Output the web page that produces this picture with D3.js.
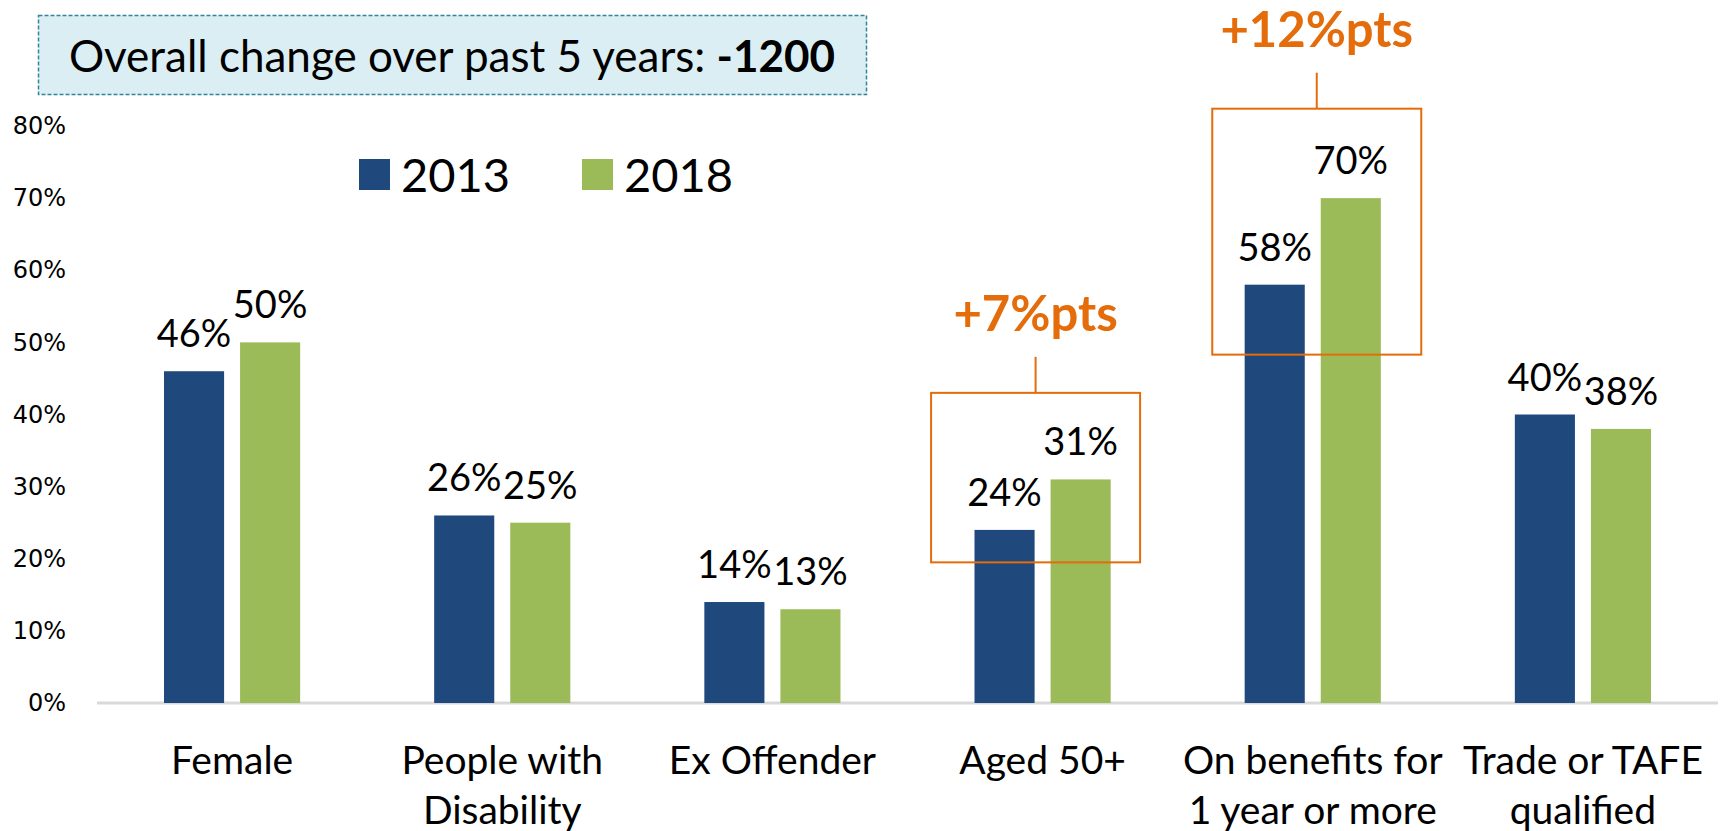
<!DOCTYPE html>
<html>
<head>
<meta charset="utf-8">
<script src="https://cdn.jsdelivr.net/npm/d3@7"></script>
<style>
  body { margin: 0; background: #fff; }
  svg { display: block; font-family: Lato, "Open Sans", sans-serif; }
</style>
</head>
<body>
<div id="chart"></div>
<script>
// data
var categories = ["Female", "People with|Disability", "Ex Offender", "Aged 50+", "On benefits for|1 year or more", "Trade or TAFE|qualified"];
var series = ["2013", "2018"];
var values2013 = [0.46, 0.26, 0.14, 0.24, 0.58, 0.40];
var values2018 = [0.50, 0.25, 0.13, 0.31, 0.70, 0.38];
var yTicks = [0, 0.1, 0.2, 0.3, 0.4, 0.5, 0.6, 0.7, 0.8];
var titleText = "Overall change over past 5 years: ";
var titleValue = "-1200";
// callouts: which category, label, box value range
var calloutCats = ["Aged 50+", "On benefits for|1 year or more"];
var calloutLabels = ["+7%pts", "+12%pts"];
var calloutLow = [0.195, 0.483];
var calloutHigh = [0.43, 0.824];

var width = 1721, height = 831;
var colors = {"2013": "#1F497D", "2018": "#9BBB59"};
var orange = "#E46C0A";

var svg = d3.select("#chart").append("svg")
  .attr("width", width)
  .attr("height", height);

var x0 = d3.scaleBand()
  .domain(categories)
  .range([97, 1718])
  .paddingInner(0.496)
  .paddingOuter(0.248);

var x1 = d3.scaleBand()
  .domain(series)
  .range([0, x0.bandwidth()])
  .paddingInner(0.21);

var y = d3.scaleLinear()
  .domain([0, 0.8])
  .range([703, 126]);

var rows = categories.map(function(c, i) {
  return {cat: c, vals: [{s: "2013", v: values2013[i]}, {s: "2018", v: values2018[i]}]};
});

// y axis labels
var yAxis = d3.axisLeft(y)
  .tickValues(yTicks)
  .tickFormat(d3.format(".0%"))
  .tickSize(0)
  .tickPadding(0);

var yg = svg.append("g")
  .attr("transform", "translate(66,0)")
  .call(yAxis);
yg.select(".domain").remove();
yg.selectAll("text")
  .attr("fill", "#000")
  .style("font-family", "'DejaVu Sans', sans-serif")
  .style("font-size", "24px");

// baseline
svg.append("line")
  .attr("x1", 97).attr("x2", 1718)
  .attr("y1", y(0)).attr("y2", y(0))
  .attr("stroke", "#D9D9D9")
  .attr("stroke-width", 3);

// bars
var groups = svg.selectAll(".grp")
  .data(rows)
  .enter().append("g")
  .attr("class", "grp")
  .attr("transform", function(d) { return "translate(" + x0(d.cat) + ",0)"; });

groups.selectAll("rect")
  .data(function(d) { return d.vals; })
  .enter().append("rect")
  .attr("x", function(d) { return x1(d.s); })
  .attr("y", function(d) { return y(d.v); })
  .attr("width", x1.bandwidth())
  .attr("height", function(d) { return y(0) - y(d.v); })
  .attr("fill", function(d) { return colors[d.s]; });

groups.selectAll(".val")
  .data(function(d) { return d.vals; })
  .enter().append("text")
  .attr("class", "val")
  .attr("x", function(d) { return x1(d.s) + x1.bandwidth() / 2; })
  .attr("y", function(d) { return y(d.v) - 24; })
  .attr("text-anchor", "middle")
  .style("font-size", "38px")
  .text(function(d) { return d3.format(".0%")(d.v); });

// category labels
var catLabels = svg.selectAll(".cat")
  .data(categories)
  .enter().append("text")
  .attr("class", "cat")
  .attr("x", function(d) { return x0(d) + x0.bandwidth() / 2; })
  .attr("y", 774)
  .attr("text-anchor", "middle")
  .style("font-size", "39px");

catLabels.selectAll("tspan")
  .data(function(d) { return d.split("|"); })
  .enter().append("tspan")
  .attr("x", function() { return this.parentNode.getAttribute("x"); })
  .attr("dy", function(d, i) { return i ? 50 : 0; })
  .text(function(d) { return d; });

// legend
var legend = svg.append("g");
var legX = [359, 582];
series.forEach(function(s, i) {
  var lx = legX[i];
  legend.append("rect")
    .attr("x", lx).attr("y", 159)
    .attr("width", 31).attr("height", 31)
    .attr("fill", colors[s]);
  legend.append("text")
    .attr("x", lx + 42).attr("y", 192)
    .style("font-size", "47px")
    .text(s);
});

// title box
svg.append("rect")
  .attr("x", 38.5).attr("y", 15.5)
  .attr("width", 828).attr("height", 79)
  .attr("fill", "#DBEEF4")
  .attr("stroke", "#31859C")
  .attr("stroke-width", 1.5)
  .attr("stroke-dasharray", "4,2");

var title = svg.append("text")
  .attr("x", 452).attr("y", 72)
  .attr("text-anchor", "middle")
  .style("font-size", "44px");
title.append("tspan").text(titleText);
title.append("tspan").style("font-weight", "bold").text(titleValue);

// callouts
var boxShift = [-7, 4];
calloutCats.forEach(function(c, i) {
  var cx = x0(c) + x0.bandwidth() / 2 + boxShift[i];
  var bw = 209;
  var bx = cx - bw / 2;
  var top = y(calloutHigh[i]);
  var bot = y(calloutLow[i]);
  svg.append("rect")
    .attr("x", bx).attr("y", top)
    .attr("width", bw).attr("height", bot - top)
    .attr("fill", "none")
    .attr("stroke", orange)
    .attr("stroke-width", 2);
  svg.append("line")
    .attr("x1", cx).attr("x2", cx)
    .attr("y1", top - 36).attr("y2", top)
    .attr("stroke", orange)
    .attr("stroke-width", 2);
  svg.append("text")
    .attr("x", cx).attr("y", top - 62)
    .attr("text-anchor", "middle")
    .attr("fill", orange)
    .style("font-size", "49px")
    .style("font-weight", "bold")
    .text(calloutLabels[i]);
});
</script>
</body>
</html>
